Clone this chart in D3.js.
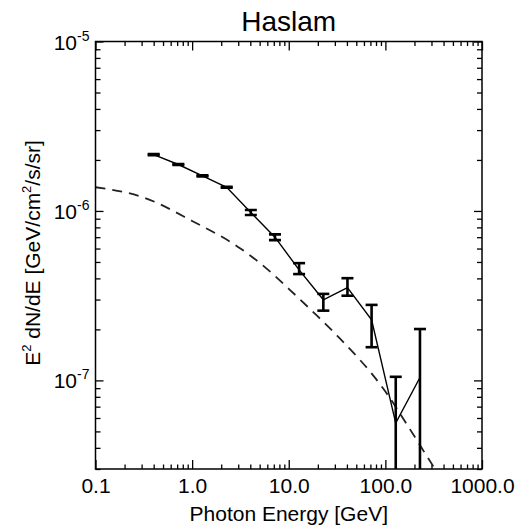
<!DOCTYPE html>
<html><head><meta charset="utf-8">
<script src="https://cdn.jsdelivr.net/npm/d3@7"></script>
<style>
body{margin:0;background:#fff}
svg{display:block}
text{font-family:"Liberation Sans",Arial,sans-serif;fill:#000}
</style>
</head><body>
<svg id="c" width="520" height="529"></svg>
<script>
// ---- data ----
const energy   = [0.40, 0.72, 1.28, 2.28, 4.05, 7.2, 12.8, 22.8, 40.5, 72, 128, 228];
const flux     = [2.15e-6, 1.88e-6, 1.61e-6, 1.38e-6, 0.98e-6, 0.70e-6, 0.449e-6, 0.299e-6, 0.353e-6, 0.228e-6, 5.6e-8, 1.04e-7];
const fluxHigh = [2.165e-6, 1.893e-6, 1.621e-6, 1.39e-6, 1.014e-6, 0.727e-6, 0.492e-6, 0.324e-6, 0.401e-6, 0.279e-6, 1.05e-7, 2.01e-7];
const fluxLow  = [2.135e-6, 1.867e-6, 1.599e-6, 1.37e-6, 0.947e-6, 0.673e-6, 0.424e-6, 0.258e-6, 0.316e-6, 0.157e-6, null, null];
const modelE   = [0.1, 0.316, 1, 3.16, 5.62, 10, 17.8, 31.6, 100, 178, 316, 500];
const modelF   = [1.38e-6, 1.20e-6, 8.73e-7, 6.01e-7, 4.68e-7, 3.47e-7, 2.54e-7, 1.84e-7, 8.6e-8, 5.19e-8, 3.09e-8, 2.09e-8];
const xMajor   = [0.1, 1, 10, 100, 1000];
const xLabels  = ["0.1", "1.0", "10.0", "100.0", "1000.0"];
const yMajor   = [1e-7, 1e-6, 1e-5];
const yExpLabels = ["-7", "-6", "-5"];
const title = "Haslam";
const xTitle = "Photon Energy [GeV]";

// ---- layout ----
const L = 95.5, R = 482, T = 41.5, B = 469;
const svg = d3.select("#c");
const x = d3.scaleLog().domain([0.1, 1000]).range([L, R]);
const y = d3.scaleLog().domain([3e-8, 1e-5]).range([B, T]);

const xTicks = [];
[0.1, 1, 10, 100].forEach(d => { for (let m = 1; m <= 9; m++) xTicks.push(+(d * m).toPrecision(3)); });
xTicks.push(1000);
const yTicks = [];
[1e-8, 1e-7, 1e-6].forEach(d => { for (let m = 1; m <= 9; m++) { const v = +(d * m).toPrecision(3); if (v >= 3e-8) yTicks.push(v); } });
yTicks.push(1e-5);
const isMajX = d => xMajor.some(v => Math.abs(Math.log10(v) - Math.log10(d)) < 1e-6);
const isMajY = d => yMajor.some(v => Math.abs(Math.log10(v) - Math.log10(d)) < 1e-6);

function styleAxis(g, isMaj, majLen, minLen, sign) {
  g.select(".domain").remove();
  g.selectAll(".tick line").attr("stroke", "#000").attr("stroke-width", 1.3);
  g.selectAll(".tick").each(function(d) {
    const len = isMaj(d) ? majLen : minLen;
    const ln = d3.select(this).select("line");
    if (ln.attr("x2") !== null && +ln.attr("x2") !== 0) ln.attr("x2", sign * len);
    else ln.attr("y2", sign * len);
  });
}

// bottom axis
const gB = svg.append("g").attr("transform", `translate(0,${B})`)
  .call(d3.axisBottom(x).tickValues(xTicks).tickSizeInner(-5).tickSizeOuter(0).tickPadding(9)
    .tickFormat(d => { const i = xMajor.findIndex(v => Math.abs(Math.log10(v) - Math.log10(d)) < 1e-6); return i >= 0 ? xLabels[i] : ""; }));
styleAxis(gB, isMajX, 9, 4.5, -1);
gB.selectAll(".tick text").attr("font-size", 21).attr("font-family", '"Liberation Sans",Arial,sans-serif').attr("fill", "#000");

// top axis
const gT = svg.append("g").attr("transform", `translate(0,${T})`)
  .call(d3.axisTop(x).tickValues(xTicks).tickSizeInner(-5).tickSizeOuter(0).tickFormat(""));
styleAxis(gT, isMajX, 9, 4.5, 1);

// left axis
const gL = svg.append("g").attr("transform", `translate(${L},0)`)
  .call(d3.axisLeft(y).tickValues(yTicks).tickSizeInner(-5).tickSizeOuter(0).tickFormat(""));
styleAxis(gL, isMajY, 8, 5, 1);
gL.selectAll(".tick").filter(d => isMajY(d)).each(function(d) {
  const i = yMajor.findIndex(v => Math.abs(Math.log10(v) - Math.log10(d)) < 1e-6);
  const t = d3.select(this).append("text").attr("x", -6).attr("y", 7.5)
    .attr("text-anchor", "end").attr("font-size", 21).attr("fill", "#000");
  t.append("tspan").text("10");
  t.append("tspan").attr("font-size", 14).attr("dy", -9).text(yExpLabels[i]);
});

// right axis
const gR = svg.append("g").attr("transform", `translate(${R},0)`)
  .call(d3.axisRight(y).tickValues(yTicks).tickSizeInner(-5).tickSizeOuter(0).tickFormat(""));
styleAxis(gR, isMajY, 8, 5, -1);

// clip
svg.append("clipPath").attr("id", "clip").append("rect")
  .attr("x", L).attr("y", T).attr("width", R - L).attr("height", B - T);
const plot = svg.append("g").attr("clip-path", "url(#clip)");

// model dashed line
plot.append("path")
  .datum(modelE.map((e, i) => [e, modelF[i]]))
  .attr("fill", "none").attr("stroke", "#222").attr("stroke-width", 1.8)
  .attr("stroke-dasharray", "10,7")
  .attr("d", d3.line().x(d => x(d[0])).y(d => y(d[1])).curve(d3.curveMonotoneX));

// data line
plot.append("path")
  .datum(energy.map((e, i) => [e, flux[i]]))
  .attr("fill", "none").attr("stroke", "#000").attr("stroke-width", 1.4)
  .attr("d", d3.line().x(d => x(d[0])).y(d => y(d[1])));

// error bars
const cap = 6;
const eb = plot.selectAll("g.eb").data(energy.map((e, i) => ({e, hi: fluxHigh[i], lo: fluxLow[i]})))
  .enter().append("g").attr("class", "eb");
const yLo = d => d.lo == null ? B + 10 : y(d.lo);
eb.append("line").attr("x1", d => x(d.e)).attr("x2", d => x(d.e))
  .attr("y1", d => y(d.hi)).attr("y2", yLo)
  .attr("stroke", "#000").attr("stroke-width", 2.6);
eb.append("line").attr("x1", d => x(d.e) - cap).attr("x2", d => x(d.e) + cap)
  .attr("y1", d => y(d.hi)).attr("y2", d => y(d.hi))
  .attr("stroke", "#000").attr("stroke-width", 2.6);
eb.append("line").attr("x1", d => x(d.e) - cap).attr("x2", d => x(d.e) + cap)
  .attr("y1", yLo).attr("y2", yLo)
  .attr("stroke", "#000").attr("stroke-width", 2.6);

// frame
svg.append("rect").attr("x", L).attr("y", T).attr("width", R - L).attr("height", B - T)
  .attr("fill", "none").attr("stroke", "#000").attr("stroke-width", 1.5);

// titles
svg.append("text").attr("x", (L + R) / 2).attr("y", 31).attr("text-anchor", "middle")
  .attr("font-size", 28).text(title);
svg.append("text").attr("x", (L + R) / 2).attr("y", 521).attr("text-anchor", "middle")
  .attr("font-size", 21).text(xTitle);
const yt = svg.append("text").attr("transform", "translate(40,253) rotate(-90)")
  .attr("text-anchor", "middle").attr("font-size", 21);
yt.append("tspan").text("E");
yt.append("tspan").attr("font-size", 13).attr("dy", -9).text("2");
yt.append("tspan").attr("dy", 9).text(" dN/dE [GeV/cm");
yt.append("tspan").attr("font-size", 13).attr("dy", -9).text("2");
yt.append("tspan").attr("dy", 9).text("/s/sr]");
</script>
</body></html>
